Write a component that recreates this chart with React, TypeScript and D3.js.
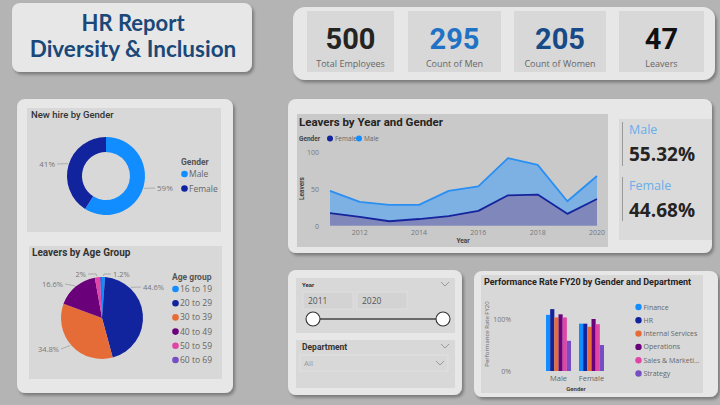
import React from 'react';
import * as d3 from 'd3';

// ---------- data ----------
const kpiValues = [500, 295, 205, 47];
const kpiLabels = ['Total Employees', 'Count of Men', 'Count of Women', 'Leavers'];
const kpiColors = ['#252423', '#1f72c4', '#174a86', '#111111'];

const newHireGenders = ['Male', 'Female'];
const newHireShare = [59, 41];

const ageGroups = ['16 to 19', '20 to 29', '30 to 39', '40 to 49', '50 to 59', '60 to 69'];
const ageLeaverShare = [1.2, 44.6, 34.8, 16.6, 2.0, 0.8];

const years = [2011, 2012, 2013, 2014, 2015, 2016, 2017, 2018, 2019, 2020];
const femaleLeavers = [17, 12, 6, 9, 13, 20, 41, 42, 16, 36];
const maleLeavers = [30, 20, 22, 19, 34, 33, 50, 40, 17, 31];
const yearTicks = [2012, 2014, 2016, 2018, 2020];
const leaverTicks = [0, 50, 100];

const genderShareLabels = ['Male', 'Female'];
const genderShareValues = [55.32, 44.68];

const sliderYears = [2011, 2020];
const departmentFilter = 'All';

const perfGenders = ['Male', 'Female'];
const departments = ['Finance', 'HR', 'Internal Services', 'Operations', 'Sales & Marketing', 'Strategy'];
const perfMale = [1.08, 1.19, 1.03, 1.09, 1.03, 0.58];
const perfFemale = [0.91, 0.91, 0.85, 1.0, 0.9, 0.5];
const perfTicks = [0, 1];

const palette = ['#118DFF', '#12239E', '#E66C37', '#6B007B', '#E044A7', '#744EC2'];

// ---------- helpers ----------
const BG = '#b4b4b4';
const PANEL = '#e7e7e7';
const INNER = '#d8d8d8';
const SANS = "'Open Sans', 'Noto Sans', sans-serif";
const DIN = "Roboto, 'Noto Sans', sans-serif";

const Panel = ({ x, y, w, h, r = 8 }: any) => (
  <rect x={x} y={y} width={w} height={h} rx={r} fill={PANEL} filter="url(#sh)" />
);

const edge = (cx: number, cy: number, r: number, deg: number) => {
  const a = (deg * Math.PI) / 180;
  return [cx + r * Math.sin(a), cy - r * Math.cos(a)];
};

const Chevron = ({ x, y }: any) => (
  <path d={`M${x - 4},${y - 2} L${x},${y + 2} L${x + 4},${y - 2}`} fill="none" stroke="#888" strokeWidth={0.8} />
);

let measureCtx: CanvasRenderingContext2D | null = null;
const truncate = (s: string, font: string, maxW: number) => {
  if (typeof document === 'undefined') return s;
  if (!measureCtx) measureCtx = document.createElement('canvas').getContext('2d');
  if (!measureCtx) return s;
  measureCtx.font = font;
  if (measureCtx.measureText(s).width <= maxW) return s;
  let t = s;
  while (t.length > 1 && measureCtx.measureText(t + '...').width > maxW) t = t.slice(0, -1);
  return t + '...';
};

export default function App() {
  // KPI cards
  const kpiX = [307, 408, 514, 619];
  const kpiW = [87, 93, 92, 85];

  // donut
  const dcx = 106, dcy = 176;
  const donutArcs = d3.pie<number>().sort(null).value(d => d)(newHireShare);
  const donutArc = d3.arc<d3.PieArcDatum<number>>().innerRadius(24).outerRadius(39);
  const donutLabelLayout = [
    { deg: 108, lx: 157, ly: 188, anchor: 'start' },
    { deg: 288, lx: 55, ly: 164, anchor: 'end' },
  ];

  // pie
  const pcx = 102, pcy = 318, pr = 41;
  const pieArcs = d3.pie<number>().sort(null).value(d => d)(ageLeaverShare);
  const pieArc = d3.arc<d3.PieArcDatum<number>>().innerRadius(0).outerRadius(pr);
  const pieLabelLayout: any[] = [
    { deg: 2, elbow: [104, 274], lx: 113, ly: 274, anchor: 'start' },
    { deg: 43, elbow: null, lx: 143, ly: 287, anchor: 'start' },
    { deg: 229, elbow: null, lx: 59, ly: 349, anchor: 'end' },
    { deg: 320, elbow: null, lx: 63, ly: 284, anchor: 'end' },
    { deg: 353, elbow: [96, 274], lx: 86, ly: 274, anchor: 'end' },
    null,
  ];

  // area chart
  const ax = d3.scaleLinear().domain([2011, 2020]).range([330, 597]);
  const ay = d3.scaleLinear().domain([0, 100]).range([225.7, 151.5]);
  const rows = years.map((yr, i) => ({ year: yr, Female: femaleLeavers[i], Male: maleLeavers[i] }));
  const stack = d3.stack<any>().keys(['Female', 'Male'])(rows);
  const area = d3
    .area<any>()
    .x(d => ax(d.data.year))
    .y0(d => ay(d[0]))
    .y1(d => ay(d[1]));
  const line = d3
    .line<any>()
    .x(d => ax(d.data.year))
    .y(d => ay(d[1]));
  const areaFills = ['#8088bb', '#7db1e4'];
  const lineColors = ['#15249c', '#2a8ff2'];

  // performance bars
  const gx = d3.scaleBand<string>().domain(perfGenders).range([529.5, 620.5]).paddingInner(0.242).paddingOuter(0.5);
  const dx = d3.scaleBand<string>().domain(departments).range([0, gx.bandwidth()]);
  const py = d3.scaleLinear().domain([0, 1]).range([371, 319]);
  const perfByGender = [perfMale, perfFemale];
  const legendFont = `7px 'Open Sans'`;

  // slider
  const sx = d3.scaleLinear().domain(sliderYears).range([313, 443]);

  return (
    <div style={{ position: 'fixed', left: 0, top: 0, width: 720, height: 405 }}>
      <svg width={720} height={405} style={{ display: 'block' }}>
        <defs>
          <filter id="sh" x="-10%" y="-10%" width="125%" height="130%">
            <feDropShadow dx="2" dy="2.5" stdDeviation="1.6" floodColor="#000" floodOpacity="0.32" />
          </filter>
        </defs>
        <rect width={720} height={405} fill={BG} />

        {/* Title */}
        <Panel x={12} y={3} w={240} h={69} />
        <text x={133} y={31} textAnchor="middle" fontFamily="Lato, sans-serif" fontWeight={700} fontSize={22} fill="#1a4878">
          HR Report
        </text>
        <text x={133} y={57} textAnchor="middle" fontFamily="Lato, sans-serif" fontWeight={700} fontSize={22.5} fill="#1a4878">
          Diversity &amp; Inclusion
        </text>

        {/* KPIs */}
        <Panel x={293} y={7} w={422} h={73} r={12} />
        {kpiValues.map((v, i) => (
          <g key={i}>
            <rect x={kpiX[i]} y={11} width={kpiW[i]} height={61} fill={INNER} />
            <text x={kpiX[i] + kpiW[i] / 2} y={49} textAnchor="middle" fontFamily={DIN} fontWeight={700} fontSize={29} fill={kpiColors[i]}>
              {v}
            </text>
            <text x={kpiX[i] + kpiW[i] / 2} y={67} textAnchor="middle" fontFamily={SANS} fontSize={9} fill="#666">
              {kpiLabels[i]}
            </text>
          </g>
        ))}

        {/* Left panel */}
        <Panel x={17} y={99} w={216} h={294} />
        <rect x={27} y={108} width={194} height={124} fill={INNER} />
        <text x={31} y={118} fontFamily={DIN} fontWeight={500} fontSize={9.5} fill="#333">
          New hire by Gender
        </text>
        {donutArcs.map((a, i) => (
          <path key={i} d={donutArc(a) || ''} transform={`translate(${dcx},${dcy})`} fill={palette[i]} />
        ))}
        {donutArcs.map((a, i) => {
          const L = donutLabelLayout[i];
          const [ex, ey] = edge(dcx, dcy, 40, L.deg);
          const endX = L.anchor === 'start' ? L.lx - 2 : L.lx + 2;
          return (
            <g key={i}>
              <polyline points={`${ex},${ey} ${endX},${L.ly}`} fill="none" stroke="#999" strokeWidth={0.7} />
              <text x={L.lx} y={L.ly + 3} textAnchor={L.anchor} fontFamily={SANS} fontSize={8} fill="#777">
                {newHireShare[i]}%
              </text>
            </g>
          );
        })}
        <text x={181} y={165} fontFamily={DIN} fontWeight={700} fontSize={8.5} fill="#555">
          Gender
        </text>
        {newHireGenders.map((g, i) => (
          <g key={g}>
            <circle cx={184.5} cy={174 + i * 14.5} r={3.3} fill={palette[i]} />
            <text x={189} y={177 + i * 14.5} fontFamily={SANS} fontSize={8.5} fill="#666">
              {g}
            </text>
          </g>
        ))}

        <rect x={29} y={246} width={193} height={133} fill={INNER} />
        <text x={32} y={256} fontFamily={DIN} fontWeight={700} fontSize={10} fill="#333">
          Leavers by Age Group
        </text>
        {pieArcs.map((a, i) => (
          <path key={i} d={pieArc(a) || ''} transform={`translate(${pcx},${pcy})`} fill={palette[i]} />
        ))}
        {pieArcs.map((a, i) => {
          const L = pieLabelLayout[i];
          if (!L) return null;
          const [ex, ey] = edge(pcx, pcy, pr + 1, L.deg);
          const endX = L.anchor === 'start' ? L.lx - 2 : L.lx + 2;
          const pts = [[ex, ey]];
          if (L.elbow) pts.push(L.elbow);
          pts.push([endX, L.ly]);
          return (
            <g key={i}>
              <polyline points={pts.map(p => p.join(',')).join(' ')} fill="none" stroke="#999" strokeWidth={0.7} />
              <text x={L.lx} y={L.ly + 3} textAnchor={L.anchor} fontFamily={SANS} fontSize={7.5} fill="#777">
                {ageLeaverShare[i]}%
              </text>
            </g>
          );
        })}
        <text x={172} y={280} fontFamily={DIN} fontWeight={700} fontSize={8.5} fill="#555">
          Age group
        </text>
        {ageGroups.map((g, i) => (
          <g key={g}>
            <circle cx={175.5} cy={289 + i * 14.2} r={3.3} fill={palette[i]} />
            <text x={180} y={292 + i * 14.2} fontFamily={SANS} fontSize={8.5} fill="#666">
              {g}
            </text>
          </g>
        ))}

        {/* Area chart panel */}
        <Panel x={288} y={99} w={424} h={154} />
        <rect x={297} y={114} width={311} height={133} fill="#c9c9c9" />
        <text x={299} y={126} fontFamily={DIN} fontWeight={700} fontSize={11.5} fill="#252423">
          Leavers by Year and Gender
        </text>
        <text x={299} y={140.5} fontFamily={DIN} fontWeight={700} fontSize={6.5} fill="#444">
          Gender
        </text>
        {['Female', 'Male'].map((k, i) => (
          <g key={k}>
            <circle cx={330 + i * 29} cy={138.5} r={3} fill={palette[1 - i]} />
            <text x={335 + i * 29} y={140.8} fontFamily={SANS} fontSize={6.5} fill="#666">
              {k}
            </text>
          </g>
        ))}
        {leaverTicks.map(t => (
          <text key={t} x={319} y={ay(t) + 3} textAnchor="end" fontFamily={SANS} fontSize={7} fill="#777">
            {t}
          </text>
        ))}
        <text transform={`translate(304,${ay(50)}) rotate(-90)`} textAnchor="middle" fontFamily={DIN} fontWeight={700} fontSize={6.5} fill="#444">
          Leavers
        </text>
        {stack.map((s, i) => (
          <path key={s.key} d={area(s) || ''} fill={areaFills[i]} />
        ))}
        {stack.map((s, i) => (
          <path key={s.key} d={line(s) || ''} fill="none" stroke={lineColors[i]} strokeWidth={1.8} strokeLinejoin="round" />
        ))}
        {yearTicks.map(t => (
          <text key={t} x={ax(t)} y={235} textAnchor="middle" fontFamily={SANS} fontSize={7} fill="#777">
            {t}
          </text>
        ))}
        <text x={463} y={243} textAnchor="middle" fontFamily={DIN} fontWeight={700} fontSize={6.5} fill="#444">
          Year
        </text>

        {/* Gender share card */}
        <rect x={619} y={119} width={93} height={121} fill="#dadada" />
        {genderShareLabels.map((g, i) => (
          <g key={g}>
            <rect x={622} y={122 + i * 55} width={1} height={44} fill="#999" />
            <text x={629} y={134 + i * 56} fontFamily={SANS} fontSize={12.5} fill="#6aaeea">
              {g}
            </text>
            <text x={629} y={161 + i * 56} fontFamily={SANS} fontWeight={700} fontSize={19} fill="#252423">
              {genderShareValues[i].toFixed(2)}%
            </text>
          </g>
        ))}

        {/* Slicer panel */}
        <Panel x={288} y={270} w={174} h={125} />
        <rect x={296} y={278} width={159} height={55} fill={INNER} />
        <text x={302} y={287} fontFamily={DIN} fontWeight={700} fontSize={6} fill="#333">
          Year
        </text>
        <Chevron x={445} y={284} />
        {sliderYears.map((yv, i) => (
          <g key={yv}>
            <rect x={303 + i * 54} y={292} width={50} height={17} fill="#d3d3d3" stroke="#e2e2e2" strokeWidth={0.8} />
            <text x={308 + i * 54} y={304} fontFamily={SANS} fontSize={8.5} fill="#555">
              {yv}
            </text>
          </g>
        ))}
        <line x1={sx(sliderYears[0])} x2={sx(sliderYears[1])} y1={319} y2={319} stroke="#444" strokeWidth={1.4} />
        {sliderYears.map(yv => (
          <circle key={yv} cx={sx(yv)} cy={319} r={7} fill="#fff" stroke="#333" strokeWidth={1.1} />
        ))}
        <rect x={296} y={340} width={159} height={48} fill={INNER} />
        <text x={302} y={350} fontFamily={DIN} fontWeight={700} fontSize={8.5} fill="#333">
          Department
        </text>
        <Chevron x={445} y={346} />
        <rect x={300} y={355} width={148} height={16} fill="none" stroke="#e4e4e4" strokeWidth={0.8} />
        <text x={304} y={366} fontFamily={SANS} fontSize={8} fill="#999">
          {departmentFilter}
        </text>
        <Chevron x={440} y={363} />

        {/* Performance panel */}
        <Panel x={474} y={271} w={244} h={126} />
        <rect x={481} y={275} width={222} height={118} fill={INNER} />
        <text x={484} y={285} fontFamily={DIN} fontWeight={700} fontSize={9} fill="#252423">
          Performance Rate FY20 by Gender and Department
        </text>
        {perfTicks.map(t => (
          <text key={t} x={511} y={py(t) + 3} textAnchor="end" fontFamily={SANS} fontSize={7} fill="#777">
            {d3.format('.0%')(t)}
          </text>
        ))}
        <text transform={`translate(489,334) rotate(-90)`} textAnchor="middle" fontFamily={SANS} fontSize={6} fill="#666">
          Performance Rate FY20
        </text>
        {perfGenders.map((g, gi) => (
          <g key={g} transform={`translate(${gx(g)},0)`}>
            {departments.map((d, di) => (
              <rect
                key={d}
                x={dx(d)}
                width={dx.bandwidth()}
                y={py(perfByGender[gi][di])}
                height={py(0) - py(perfByGender[gi][di])}
                fill={palette[di]}
              />
            ))}
          </g>
        ))}
        {perfGenders.map(g => (
          <text key={g} x={(gx(g) || 0) + gx.bandwidth() / 2} y={381} textAnchor="middle" fontFamily={SANS} fontSize={7.5} fill="#666">
            {g}
          </text>
        ))}
        <text x={576} y={390.5} textAnchor="middle" fontFamily={DIN} fontWeight={700} fontSize={6} fill="#444">
          Gender
        </text>
        {departments.map((d, i) => (
          <g key={d}>
            <circle cx={638.5} cy={307 + i * 13.3} r={3.2} fill={palette[i]} />
            <text x={643.5} y={309.5 + i * 13.3} fontFamily={SANS} fontSize={7} fill="#666">
              {truncate(d, legendFont, 58)}
            </text>
          </g>
        ))}
      </svg>
    </div>
  );
}
